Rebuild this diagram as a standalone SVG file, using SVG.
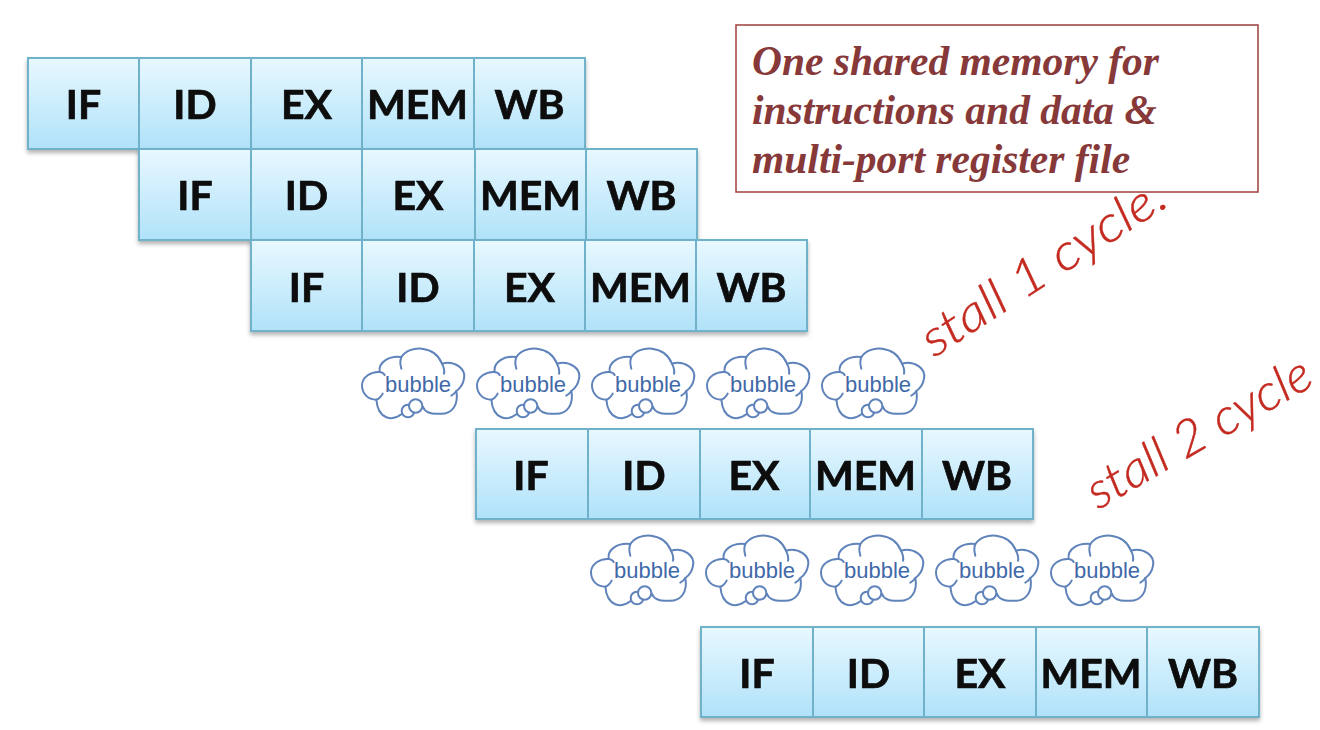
<svg xmlns="http://www.w3.org/2000/svg" xmlns:xlink="http://www.w3.org/1999/xlink" width="1320" height="730" viewBox="0 0 1320 730">
<style>
.c{fill:url(#g);stroke:#6fb2ca;stroke-width:2}
.l{font-family:Lato,"Open Sans",sans-serif;font-weight:700;font-size:41px;fill:#0a0a0a;stroke:#0a0a0a;stroke-width:.7;text-anchor:middle}
.b{font-family:"Liberation Sans",Arial,sans-serif;font-size:22px;fill:#3f69a8;text-anchor:middle}
.cl{fill:#fff;stroke:#5f83ba;stroke-width:6;stroke-linecap:round}
.n{font-family:"Liberation Serif","Times New Roman",serif;font-weight:700;font-style:italic;font-size:41.5px;fill:#87393a}
.h{font-family:Lato,"Liberation Sans",sans-serif;font-weight:300;font-style:italic;fill:#c42a20;stroke:#c42a20;stroke-width:.4}
</style>
<defs>
<linearGradient id="g" x1="0" y1="0" x2="0" y2="1"><stop offset="0" stop-color="#e8f8ff"/><stop offset="1" stop-color="#b0e2f9"/></linearGradient>
<filter id="s" x="-5%" y="-5%" width="110%" height="115%"><feDropShadow dx="0" dy="3" stdDeviation="2" flood-color="#000" flood-opacity=".3"/></filter>
<g id="cloud" transform="scale(.3333) translate(-175,-125)">
<path class="cl" d="M75 95C70 65 105 45 140 50C165 12 240 15 262 70C300 60 335 85 328 115C325 135 315 145 305 152C312 190 295 225 250 220C230 222 210 215 205 200L140 222C115 242 70 240 65 178C40 178 22 160 22 135C22 110 50 93 75 95Z"/>
<path class="cl" style="fill:none" d="M140 50C135 62 137 75 140 85M262 70C268 82 270 92 268 100M75 95C82 96 88 100 90 104M65 178C72 176 80 168 84 160M305 152C300 160 296 163 290 166"/>
<circle class="cl" cx="160" cy="212" r="19"/>
<circle class="cl" cx="183" cy="197" r="20"/>
</g>
</defs>
<rect width="1320" height="730" fill="#fff"/>
<g id="connectors"/>
<g id="row1" filter="url(#s)">
<g id="r1-if"><rect class="c" x="28" y="58" width="111" height="91"/><text class="l" x="83.500" y="119">IF</text></g>
<g id="r1-id"><rect class="c" x="139" y="58" width="112" height="91"/><text class="l" x="195" y="119">ID</text></g>
<g id="r1-ex"><rect class="c" x="251" y="58" width="111" height="91"/><text class="l" x="306.500" y="119">EX</text></g>
<g id="r1-mem"><rect class="c" x="362" y="58" width="112" height="91"/><text class="l" x="417.500" y="119">MEM</text></g>
<g id="r1-wb"><rect class="c" x="474" y="58" width="111" height="91"/><text class="l" x="529.500" y="119">WB</text></g>
</g>
<g id="row2" filter="url(#s)">
<g id="r2-if"><rect class="c" x="139" y="149" width="112" height="91"/><text class="l" x="195" y="210">IF</text></g>
<g id="r2-id"><rect class="c" x="251" y="149" width="111" height="91"/><text class="l" x="306.500" y="210">ID</text></g>
<g id="r2-ex"><rect class="c" x="362" y="149" width="113" height="91"/><text class="l" x="418" y="210">EX</text></g>
<g id="r2-mem"><rect class="c" x="475" y="149" width="111" height="91"/><text class="l" x="530.500" y="210">MEM</text></g>
<g id="r2-wb"><rect class="c" x="586" y="149" width="111" height="91"/><text class="l" x="641.500" y="210">WB</text></g>
</g>
<g id="row3" filter="url(#s)">
<g id="r3-if"><rect class="c" x="251" y="240" width="111" height="91"/><text class="l" x="306.500" y="302">IF</text></g>
<g id="r3-id"><rect class="c" x="362" y="240" width="112" height="91"/><text class="l" x="418" y="302">ID</text></g>
<g id="r3-ex"><rect class="c" x="474" y="240" width="111" height="91"/><text class="l" x="529.500" y="302">EX</text></g>
<g id="r3-mem"><rect class="c" x="585" y="240" width="111" height="91"/><text class="l" x="640.500" y="302">MEM</text></g>
<g id="r3-wb"><rect class="c" x="696" y="240" width="111" height="91"/><text class="l" x="751.500" y="302">WB</text></g>
</g>
<g id="row4" filter="url(#s)">
<g id="r4-if"><rect class="c" x="476" y="429" width="112" height="90"/><text class="l" x="531" y="490">IF</text></g>
<g id="r4-id"><rect class="c" x="588" y="429" width="112" height="90"/><text class="l" x="644" y="490">ID</text></g>
<g id="r4-ex"><rect class="c" x="700" y="429" width="110" height="90"/><text class="l" x="754" y="490">EX</text></g>
<g id="r4-mem"><rect class="c" x="810" y="429" width="112" height="90"/><text class="l" x="865.500" y="490">MEM</text></g>
<g id="r4-wb"><rect class="c" x="922" y="429" width="111" height="90"/><text class="l" x="977" y="490">WB</text></g>
</g>
<g id="row5" filter="url(#s)">
<g id="r5-if"><rect class="c" x="701" y="627" width="112" height="90"/><text class="l" x="757" y="688">IF</text></g>
<g id="r5-id"><rect class="c" x="813" y="627" width="111" height="90"/><text class="l" x="868.500" y="688">ID</text></g>
<g id="r5-ex"><rect class="c" x="924" y="627" width="112" height="90"/><text class="l" x="980" y="688">EX</text></g>
<g id="r5-mem"><rect class="c" x="1036" y="627" width="111" height="90"/><text class="l" x="1091" y="688">MEM</text></g>
<g id="r5-wb"><rect class="c" x="1147" y="627" width="112" height="90"/><text class="l" x="1203" y="688">WB</text></g>
</g>
<g id="bubble1"><use href="#cloud" x="413" y="382"/><text class="b" x="418" y="392">bubble</text></g>
<g id="bubble2"><use href="#cloud" x="528" y="382"/><text class="b" x="533" y="392">bubble</text></g>
<g id="bubble3"><use href="#cloud" x="643" y="382"/><text class="b" x="648" y="392">bubble</text></g>
<g id="bubble4"><use href="#cloud" x="758" y="382"/><text class="b" x="763" y="392">bubble</text></g>
<g id="bubble5"><use href="#cloud" x="873" y="382"/><text class="b" x="878" y="392">bubble</text></g>
<g id="bubble6"><use href="#cloud" x="642" y="569"/><text class="b" x="647" y="578">bubble</text></g>
<g id="bubble7"><use href="#cloud" x="757" y="569"/><text class="b" x="762" y="578">bubble</text></g>
<g id="bubble8"><use href="#cloud" x="872" y="569"/><text class="b" x="877" y="578">bubble</text></g>
<g id="bubble9"><use href="#cloud" x="987" y="569"/><text class="b" x="992" y="578">bubble</text></g>
<g id="bubble10"><use href="#cloud" x="1102" y="569"/><text class="b" x="1107" y="578">bubble</text></g>
<g id="note"><rect x="736" y="25" width="522" height="167" fill="#fff" stroke="#a34a48" stroke-width="1.6"/>
<text class="n" x="752" y="75">One shared memory for</text>
<text class="n" x="752" y="124">instructions and data &amp;</text>
<text class="n" x="752" y="173">multi-port register file</text></g>
<g id="hand1"><text class="h" transform="translate(934,358) rotate(-33)" font-size="50" textLength="282" lengthAdjust="spacingAndGlyphs">stall  1 cycle.</text></g>
<g id="hand2"><text class="h" transform="translate(1098,510) rotate(-30)" font-size="50" textLength="252" lengthAdjust="spacingAndGlyphs">stall 2 cycle</text></g>
</svg>
